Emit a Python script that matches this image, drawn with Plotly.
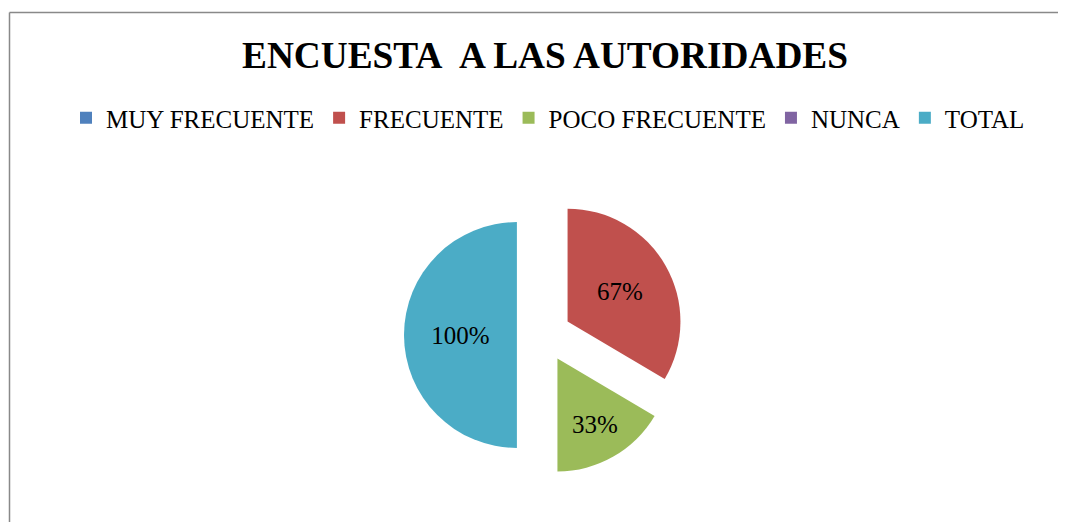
import plotly.graph_objects as go

categories = ["MUY FRECUENTE", "FRECUENTE", "POCO FRECUENTE", "NUNCA", "TOTAL"]
values = [0, 67, 33, 0, 100]
value_labels = ["", "67%", "33%", "", "100%"]
colors = ["#4F81BD", "#C0504D", "#9BBB59", "#8064A2", "#4BACC6"]

W, H = 1066, 522
OFF = 8  # page body margin offset


def fx(x):
    return (x - OFF) / W


def fy(y):
    return 1 - (y - OFF) / H


fig = go.Figure(go.Pie(
    labels=categories,
    values=values,
    text=value_labels,
    textinfo="text",
    textposition="inside",
    insidetextorientation="horizontal",
    sort=False,
    direction="clockwise",
    rotation=0,
    pull=[0.24] * len(values),
    marker=dict(colors=colors, line=dict(width=0)),
    textfont=dict(family="Liberation Serif", size=25, color="#000000"),
    domain=dict(x=[fx(404), fx(684)], y=[fy(475), fy(195)]),
    hoverinfo="label+value",
))

fig.update_layout(
    width=W, height=H,
    margin=dict(l=0, r=0, t=0, b=0),
    paper_bgcolor="white",
    plot_bgcolor="white",
    uniformtext=dict(minsize=25, mode="show"),
    title=dict(
        text="<b>ENCUESTA&nbsp; A LAS AUTORIDADES</b>",
        x=fx(545), xanchor="center",
        y=fy(55), yanchor="middle",
        font=dict(family="Liberation Serif", size=37.3, color="#000000"),
    ),
    legend=dict(
        orientation="h",
        x=fx(548), xanchor="center",
        y=fy(95), yanchor="top",
        font=dict(family="Liberation Serif", size=25, color="#000000"),
        traceorder="normal",
        itemwidth=30,
    ),
    shapes=[
        dict(type="line", xref="paper", yref="paper",
             x0=fx(9.5), x1=1.02, y0=fy(12.5), y1=fy(12.5),
             line=dict(color="#898989", width=1.5)),
        dict(type="line", xref="paper", yref="paper",
             x0=fx(9.5), x1=fx(9.5), y0=fy(12.5), y1=-0.05,
             line=dict(color="#898989", width=1.5)),
    ],
)

fig.write_html("out.html")
